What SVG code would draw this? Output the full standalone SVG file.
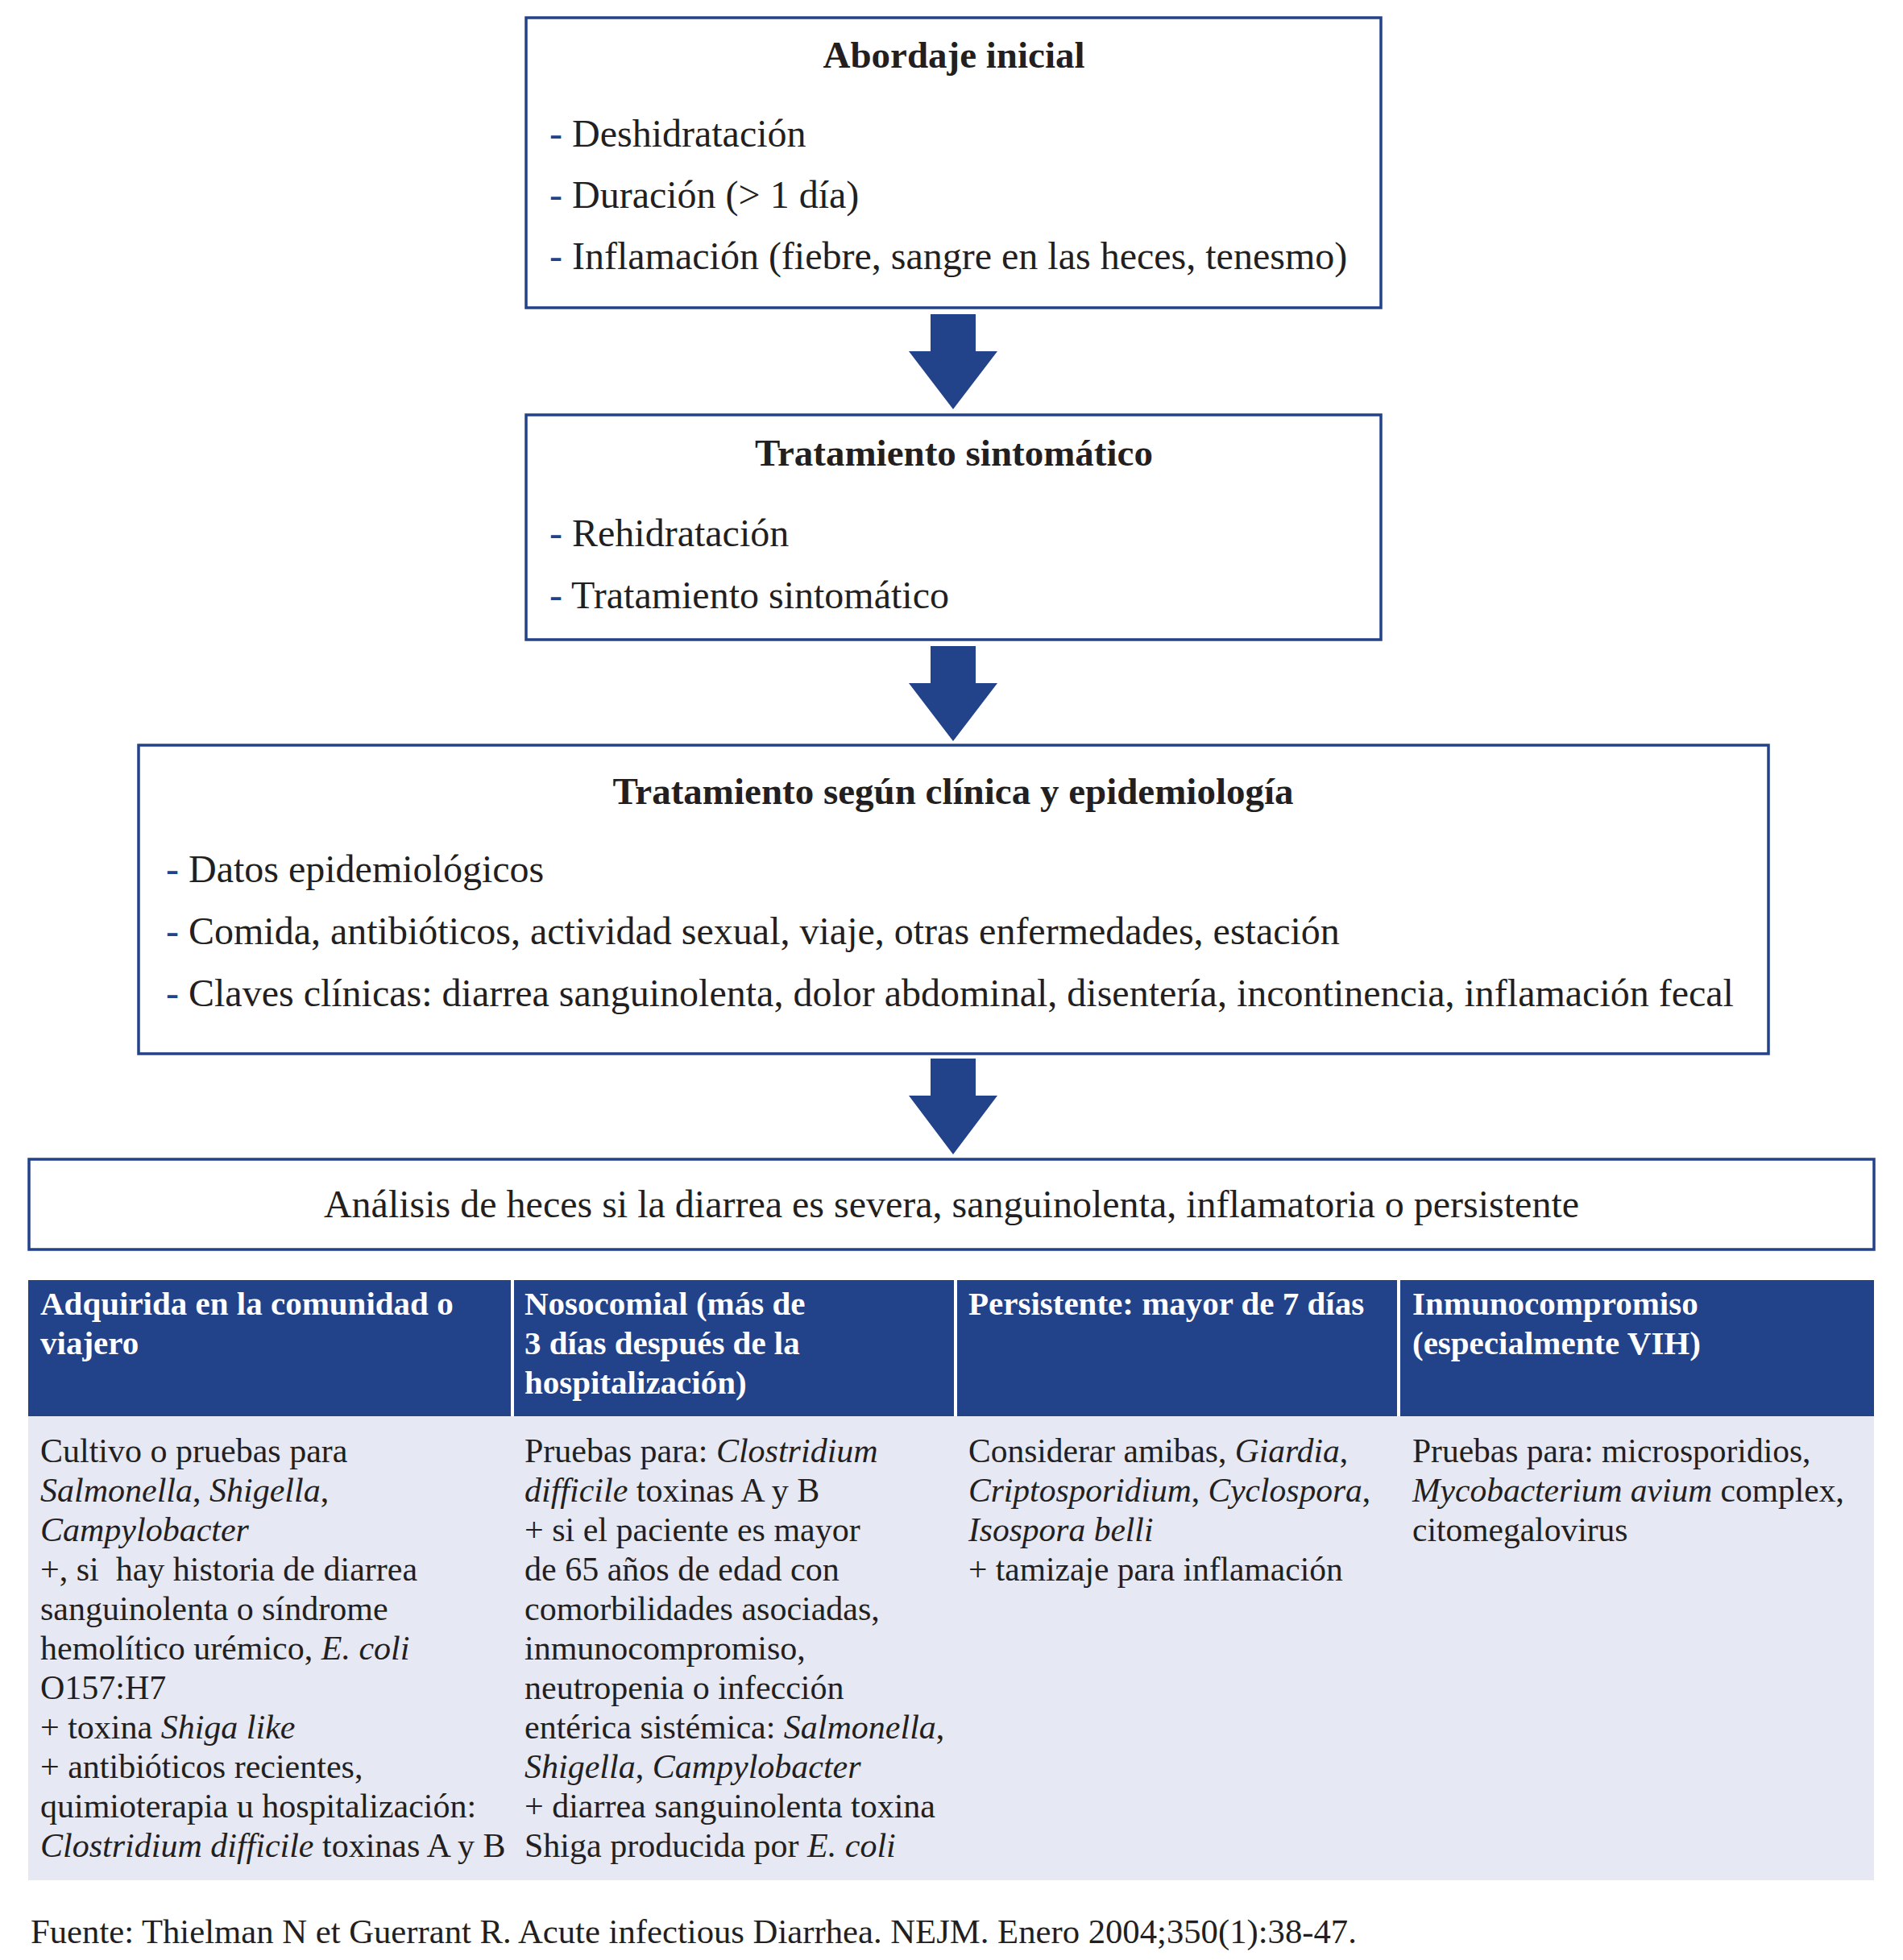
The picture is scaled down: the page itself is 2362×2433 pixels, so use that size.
<svg xmlns="http://www.w3.org/2000/svg" width="2362" height="2433" viewBox="0 0 2362 2433">
<style>
text{font-family:"Liberation Serif","Times New Roman",serif;fill:#231f20}
.box{fill:#fff;stroke:#22428a;stroke-width:3.5}
.ttl{font-size:47px;font-weight:bold;text-anchor:middle}
.item{font-size:48px}
.dash{fill:#22428a}
.arrow{fill:#22428a}
.hdr{fill:#22428a}
.body{fill:#e6e8f3}
.sep{stroke:#fff;stroke-width:4}
.th{font-size:41px;font-weight:bold;fill:#fff}
.td{font-size:42px}
.td2{font-size:41.5px}
.src{font-size:42.7px}
.i{font-style:italic}
</style>
<rect width="2362" height="2433" fill="#fff"/>
<g id="connectors">
<polygon class="arrow" points="1155,390 1211,390 1211,436 1238,436 1183,508 1128,436 1155,436"/>
<polygon class="arrow" points="1155,802 1211,802 1211,848 1238,848 1183,920 1128,848 1155,848"/>
<polygon class="arrow" points="1155,1314 1211,1314 1211,1360 1238,1360 1183,1433 1128,1360 1155,1360"/>
</g>
<g id="abordaje-inicial">
<rect class="box" x="653" y="22" width="1061" height="360"/>
<text class="ttl" x="1184" y="84">Abordaje inicial</text>
<text class="item" x="682" y="182"><tspan class="dash">-</tspan> Deshidratación</text>
<text class="item" x="682" y="258"><tspan class="dash">-</tspan> Duración (&gt; 1 día)</text>
<text class="item" x="682" y="334"><tspan class="dash">-</tspan> Inflamación (fiebre, sangre en las heces, tenesmo)</text>
</g>
<g id="tratamiento-sintomatico">
<rect class="box" x="653" y="515" width="1061" height="279"/>
<text class="ttl" x="1184" y="578">Tratamiento sintomático</text>
<text class="item" x="682" y="678"><tspan class="dash">-</tspan> Rehidratación</text>
<text class="item" x="682" y="755"><tspan class="dash">-</tspan> Tratamiento sintomático</text>
</g>
<g id="tratamiento-clinica">
<rect class="box" x="172" y="925" width="2023" height="383"/>
<text class="ttl" x="1183" y="998">Tratamiento según clínica y epidemiología</text>
<text class="item" x="206" y="1095"><tspan class="dash">-</tspan> Datos epidemiológicos</text>
<text class="item" x="206" y="1172"><tspan class="dash">-</tspan> Comida, antibióticos, actividad sexual, viaje, otras enfermedades, estación</text>
<text class="item" x="206" y="1249"><tspan class="dash">-</tspan> Claves clínicas: diarrea sanguinolenta, dolor abdominal, disentería, incontinencia, inflamación fecal</text>
</g>
<g id="analisis-heces">
<rect class="box" x="36" y="1439" width="2290" height="112"/>
<text class="item" x="1181" y="1511" text-anchor="middle">Análisis de heces si la diarrea es severa, sanguinolenta, inflamatoria o persistente</text>
</g>
<g id="tabla">
<rect class="hdr" x="35" y="1589" width="2291" height="169"/>
<rect class="body" x="35" y="1758" width="2291" height="576"/>
<line class="sep" x1="636" y1="1589" x2="636" y2="1758"/>
<line class="sep" x1="1186" y1="1589" x2="1186" y2="1758"/>
<line class="sep" x1="1736" y1="1589" x2="1736" y2="1758"/>
<g id="col-comunidad">
<text class="th" x="50" y="1632">Adquirida en la comunidad o</text>
<text class="th" x="50" y="1681">viajero</text>
<text class="td" x="50" y="1815">Cultivo o pruebas para</text>
<text class="td" x="50" y="1864"><tspan class="i">Salmonella</tspan>, <tspan class="i">Shigella</tspan>,</text>
<text class="td" x="50" y="1913"><tspan class="i">Campylobacter</tspan></text>
<text class="td" x="50" y="1962" xml:space="preserve">+, si  hay historia de diarrea</text>
<text class="td" x="50" y="2011">sanguinolenta o síndrome</text>
<text class="td" x="50" y="2060">hemolítico urémico, <tspan class="i">E. coli</tspan></text>
<text class="td" x="50" y="2109">O157:H7</text>
<text class="td" x="50" y="2158">+ toxina <tspan class="i">Shiga like</tspan></text>
<text class="td" x="50" y="2207">+ antibióticos recientes,</text>
<text class="td" x="50" y="2256">quimioterapia u hospitalización:</text>
<text class="td" x="50" y="2305"><tspan class="i">Clostridium difficile</tspan> toxinas A y B</text>
</g>
<g id="col-nosocomial">
<text class="th" x="651" y="1632">Nosocomial (más de</text>
<text class="th" x="651" y="1681">3 días después de la</text>
<text class="th" x="651" y="1730">hospitalización)</text>
<text class="td" x="651" y="1815">Pruebas para: <tspan class="i">Clostridium</tspan></text>
<text class="td" x="651" y="1864"><tspan class="i">difficile</tspan> toxinas A y B</text>
<text class="td" x="651" y="1913">+ si el paciente es mayor</text>
<text class="td" x="651" y="1962">de 65 años de edad con</text>
<text class="td" x="651" y="2011">comorbilidades asociadas,</text>
<text class="td" x="651" y="2060">inmunocompromiso,</text>
<text class="td" x="651" y="2109">neutropenia o infección</text>
<text class="td" x="651" y="2158">entérica sistémica: <tspan class="i">Salmonella</tspan>,</text>
<text class="td" x="651" y="2207"><tspan class="i">Shigella</tspan>, <tspan class="i">Campylobacter</tspan></text>
<text class="td" x="651" y="2256">+ diarrea sanguinolenta toxina</text>
<text class="td" x="651" y="2305">Shiga producida por <tspan class="i">E. coli</tspan></text>
</g>
<g id="col-persistente">
<text class="th" x="1202" y="1632">Persistente: mayor de 7 días</text>
<text class="td2" x="1202" y="1815">Considerar amibas, <tspan class="i">Giardia</tspan>,</text>
<text class="td2" x="1202" y="1864"><tspan class="i">Criptosporidium</tspan>, <tspan class="i">Cyclospora</tspan>,</text>
<text class="td2" x="1202" y="1913"><tspan class="i">Isospora belli</tspan></text>
<text class="td2" x="1202" y="1962">+ tamizaje para inflamación</text>
</g>
<g id="col-inmunocompromiso">
<text class="th" x="1753" y="1632">Inmunocompromiso</text>
<text class="th" x="1753" y="1681">(especialmente VIH)</text>
<text class="td2" x="1753" y="1815">Pruebas para: microsporidios,</text>
<text class="td2" x="1753" y="1864"><tspan class="i">Mycobacterium avium</tspan> complex,</text>
<text class="td2" x="1753" y="1913">citomegalovirus</text>
</g>
</g>
<g id="fuente">
<text class="src" x="38" y="2412">Fuente: Thielman N et Guerrant R. Acute infectious Diarrhea. NEJM. Enero 2004;350(1):38-47.</text>
</g>
</svg>
